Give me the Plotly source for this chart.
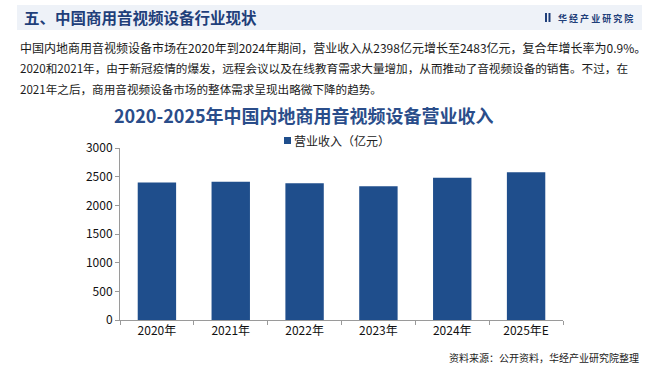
import plotly.graph_objects as go

categories = ["2020年", "2021年", "2022年", "2023年", "2024年", "2025年E"]
revenue = [2398, 2412, 2384, 2332, 2483, 2576]
series_name = "营业收入（亿元）"
y_ticks = [0, 500, 1000, 1500, 2000, 2500, 3000]

W, H = 660, 367
L, R, T, B = 120, 97, 148, 47
PW, PH = W - L - R, H - T - B
FONT = "Noto Sans CJK SC, Noto Sans, sans-serif"
BAR = "#1F4E8C"


def px(x):
    return (x - L) / PW


def py(y):
    return (H - B - y) / PH


fig = go.Figure()
fig.add_trace(go.Bar(
    x=categories, y=revenue, name=series_name,
    marker=dict(color=BAR, line=dict(width=0)),
    width=0.52, showlegend=False,
))

fig.update_layout(
    width=W, height=H,
    margin=dict(l=L, r=R, t=T, b=B, autoexpand=False),
    paper_bgcolor="white", plot_bgcolor="white",
    font=dict(family=FONT, size=12, color="#222222"),
)
fig.update_yaxes(range=[0, 3000], tickvals=y_ticks, showgrid=False,
                 showline=True, linecolor="#9a9a9a", linewidth=1,
                 ticks="outside", ticklen=4, tickcolor="#9a9a9a",
                 tickfont=dict(size=12, color="#111"), zeroline=False)
fig.update_xaxes(showgrid=False, showline=True, linecolor="#9a9a9a", linewidth=1,
                 ticks="outside", ticklen=4, tickcolor="#9a9a9a", tickson="boundaries",
                 tickfont=dict(size=12, color="#111"))

shapes = [
    dict(type="rect", xref="paper", yref="paper", x0=px(17), x1=px(642), y0=py(30), y1=py(5),
         fillcolor="#EEF2F8", line=dict(width=0), layer="below"),
    dict(type="rect", xref="paper", yref="paper", x0=px(545), x1=px(547), y0=py(22), y1=py(13),
         fillcolor="#1F3F7A", line=dict(width=0)),
    dict(type="rect", xref="paper", yref="paper", x0=px(548.5), x1=px(550.5), y0=py(22), y1=py(13),
         fillcolor="#1F3F7A", line=dict(width=0)),
    dict(type="rect", xref="paper", yref="paper", x0=px(284), x1=px(291), y0=py(144), y1=py(137),
         fillcolor=BAR, line=dict(width=0)),
]
fig.update_layout(shapes=shapes)

ann = []
ann.append(dict(text="<b>五、中国商用音视频设备行业现状</b>", x=px(22), y=py(17),
                xanchor="left", yanchor="middle", font=dict(size=15.5, color="#1F3F7A")))
ann.append(dict(text="<b>华 经 产 业 研 究 院</b>", x=px(556), y=py(18),
                xanchor="left", yanchor="middle", font=dict(size=9, color="#1F3F7A")))
lines = [
    ("中国内地商用音视频设备市场在2020年到2024年期间，营业收入从2398亿元增长至2483亿元，复合年增长率为0.9%。", 12),
    ("2020和2021年，由于新冠疫情的爆发，远程会议以及在线教育需求大量增加，从而推动了音视频设备的销售。不过，在", 11.6),
    ("2021年之后，商用音视频设备市场的整体需求呈现出略微下降的趋势。", 11.6),
]
for i, (t, s) in enumerate(lines):
    ann.append(dict(text=t, x=px(18), y=py(47 + 21 * i), xanchor="left", yanchor="middle",
                    font=dict(size=s, color="#1a1a1a")))
ann.append(dict(text="<b>2020-2025年中国内地商用音视频设备营业收入</b>", x=px(304), y=py(115),
                xanchor="center", yanchor="middle", font=dict(size=18, color="#2A4D8A")))
ann.append(dict(text=series_name, x=px(292), y=py(140),
                xanchor="left", yanchor="middle", font=dict(size=12, color="#222")))
ann.append(dict(text="资料来源：公开资料，华经产业研究院整理", x=px(641), y=py(357),
                xanchor="right", yanchor="middle", font=dict(size=10, color="#222")))
for a in ann:
    a.update(xref="paper", yref="paper", showarrow=False)
fig.update_layout(annotations=ann)

fig.write_html("out.html", config={"displayModeBar": False},
               post_script="document.body.style.margin='0';document.body.style.padding='0';")
